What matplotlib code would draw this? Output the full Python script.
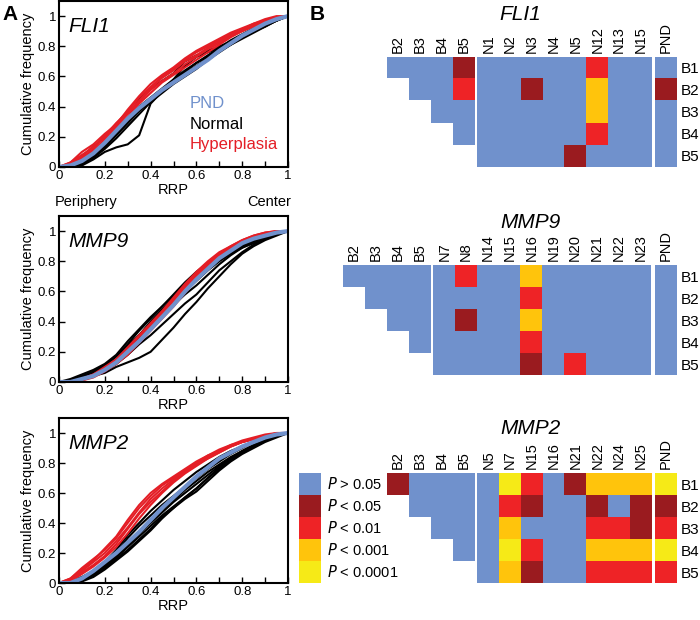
import matplotlib
matplotlib.use("Agg")
import matplotlib.pyplot as plt
import numpy as np
from matplotlib.colors import ListedColormap

plt.rcParams['font.family'] = ['Liberation Sans', 'DejaVu Sans']

# ---- data: cumulative frequency curves ----
rrp = [0, .05, .1, .15, .2, .25, .3, .35, .4, .45, .5, .55, .6, .65, .7, .75, .8, .85, .9, .95, 1]

fli1_pnd = [0, .01, .04, .09, .16, .24, .32, .39, .45, .51, .56, .61, .66, .71, .77, .82, .87, .91, .95, .98, 1]
fli1_hyper = [
    [0, .03, .08, .13, .21, .29, .37, .46, .53, .60, .65, .71, .76, .80, .84, .88, .91, .94, .97, .99, 1],
    [0, .02, .07, .14, .19, .27, .35, .43, .51, .57, .62, .68, .73, .78, .82, .87, .90, .93, .96, .99, 1],
    [0, .03, .10, .15, .22, .28, .38, .47, .55, .61, .66, .72, .77, .81, .85, .89, .92, .95, .98, 1.0, 1],
    [0, .01, .05, .11, .18, .26, .33, .42, .49, .56, .61, .66, .71, .76, .81, .86, .90, .94, .97, .99, 1],
    [0, .02, .06, .12, .20, .29, .36, .44, .52, .59, .64, .70, .74, .79, .83, .87, .91, .95, .97, .99, 1],
]
fli1_normal = [
    [0, 0, .01, .05, .10, .13, .15, .21, .42, .50, .58, .67, .73, .76, .79, .82, .86, .90, .93, .97, 1],
    [0, 0, .03, .08, .14, .22, .32, .45, .52, .57, .62, .70, .74, .77, .80, .83, .87, .91, .94, .97, 1],
    [0, 0, .02, .07, .13, .21, .29, .37, .44, .50, .56, .62, .67, .72, .77, .81, .85, .89, .93, .97, 1],
    [0, .01, .04, .09, .15, .23, .31, .40, .46, .52, .58, .64, .69, .73, .78, .82, .86, .90, .94, .97, 1],
    [0, 0, .03, .08, .15, .22, .30, .38, .43, .49, .55, .60, .65, .71, .76, .81, .86, .91, .95, .98, 1],
    [0, 0, .02, .06, .12, .19, .27, .35, .43, .50, .57, .63, .69, .74, .79, .84, .88, .92, .95, .98, 1],
]

mmp9_pnd = [0, 0, .02, .04, .08, .13, .20, .27, .35, .43, .51, .60, .68, .75, .82, .87, .92, .95, .97, .99, 1]
mmp9_hyper = [
    [0, 0, .02, .05, .09, .15, .22, .30, .38, .46, .54, .63, .71, .78, .84, .89, .93, .96, .98, .99, 1],
    [0, 0, .01, .03, .07, .12, .19, .27, .36, .45, .53, .62, .70, .78, .84, .89, .93, .96, .98, 1, 1],
    [0, 0, .02, .04, .08, .14, .21, .28, .37, .46, .55, .64, .72, .79, .85, .90, .94, .97, .99, 1, 1],
    [0, 0, .01, .04, .08, .12, .18, .26, .34, .42, .50, .59, .68, .76, .83, .88, .92, .95, .98, .99, 1],
    [0, 0, .02, .05, .10, .15, .23, .31, .39, .47, .56, .65, .73, .80, .86, .90, .94, .97, .99, 1, 1],
]
mmp9_normal = [
    [0, 0, .02, .04, .06, .10, .13, .16, .20, .28, .36, .45, .53, .62, .70, .78, .85, .90, .94, .97, 1],
    [0, 0, .02, .04, .07, .12, .18, .25, .31, .38, .45, .52, .58, .66, .74, .80, .86, .91, .95, .98, 1],
    [0, .02, .05, .08, .12, .18, .27, .35, .43, .50, .57, .65, .72, .78, .83, .88, .92, .95, .97, .99, 1],
    [0, .01, .04, .07, .11, .17, .25, .34, .42, .50, .58, .66, .73, .79, .84, .88, .91, .94, .97, .99, 1],
    [0, 0, .03, .06, .10, .15, .22, .30, .37, .44, .51, .58, .64, .71, .78, .84, .89, .93, .96, .98, 1],
    [0, 0, .02, .05, .09, .14, .22, .31, .40, .48, .55, .61, .68, .75, .81, .86, .90, .94, .97, .99, 1],
    [0, .01, .03, .06, .11, .17, .24, .31, .38, .46, .53, .60, .67, .74, .80, .85, .89, .92, .95, .98, 1],
    [0, 0, .02, .05, .08, .13, .20, .29, .38, .47, .56, .64, .70, .76, .82, .87, .91, .95, .97, .99, 1],
]

mmp2_pnd = [0, 0, .03, .08, .14, .20, .27, .34, .42, .50, .57, .64, .71, .77, .83, .87, .91, .94, .97, .99, 1]
mmp2_hyper = [
    [0, .03, .10, .16, .22, .30, .40, .50, .58, .65, .70, .75, .80, .84, .88, .91, .94, .96, .98, .99, 1],
    [0, .02, .08, .14, .20, .28, .37, .47, .56, .63, .69, .74, .79, .83, .87, .91, .94, .96, .98, 1, 1],
    [0, .02, .07, .12, .18, .26, .36, .46, .54, .61, .68, .74, .80, .85, .89, .92, .95, .97, .99, 1, 1],
    [0, .03, .09, .15, .23, .31, .42, .52, .60, .66, .71, .76, .81, .85, .88, .92, .94, .96, .98, .99, 1],
    [0, .01, .06, .11, .17, .24, .33, .43, .52, .60, .67, .73, .78, .83, .87, .91, .94, .96, .98, .99, 1],
]
mmp2_normal = [
    [0, 0, .02, .06, .11, .17, .24, .31, .38, .45, .51, .57, .63, .70, .76, .82, .87, .91, .95, .98, 1],
    [0, 0, .02, .05, .10, .16, .22, .29, .36, .44, .50, .56, .61, .68, .75, .81, .86, .90, .94, .97, 1],
    [0, 0, .03, .07, .13, .19, .26, .33, .40, .47, .54, .60, .66, .72, .78, .83, .88, .92, .95, .98, 1],
    [0, 0, .02, .06, .12, .20, .30, .38, .45, .52, .58, .64, .70, .76, .81, .86, .90, .94, .97, .99, 1],
    [0, 0, .01, .04, .09, .15, .21, .28, .35, .43, .50, .57, .63, .70, .77, .82, .87, .91, .95, .98, 1],
    [0, 0, .02, .06, .12, .18, .25, .33, .41, .49, .55, .62, .68, .74, .79, .84, .88, .92, .95, .98, 1],
    [0, .01, .04, .08, .14, .22, .32, .40, .48, .55, .62, .68, .74, .79, .84, .88, .91, .94, .97, .99, 1],
]

# ---- data: significance matrices (0:P>0.05 1:P<0.05 2:P<0.01 3:P<0.001 4:P<0.0001, -1 empty) ----
rows = ["B1", "B2", "B3", "B4", "B5"]
b_cols = ["B2", "B3", "B4", "B5"]

fli1_b = [[0, 0, 0, 1], [-1, 0, 0, 2], [-1, -1, 0, 0], [-1, -1, -1, 0], [-1, -1, -1, -1]]
fli1_ncols = ["N1", "N2", "N3", "N4", "N5", "N12", "N13", "N15"]
fli1_n = [[0, 0, 0, 0, 0, 2, 0, 0],
          [0, 0, 1, 0, 0, 3, 0, 0],
          [0, 0, 0, 0, 0, 3, 0, 0],
          [0, 0, 0, 0, 0, 2, 0, 0],
          [0, 0, 0, 0, 1, 0, 0, 0]]
fli1_p = [0, 1, 0, 0, 0]

mmp9_b = [[0, 0, 0, 0], [-1, 0, 0, 0], [-1, -1, 0, 0], [-1, -1, -1, 0], [-1, -1, -1, -1]]
mmp9_ncols = ["N7", "N8", "N14", "N15", "N16", "N19", "N20", "N21", "N22", "N23"]
mmp9_n = [[0, 2, 0, 0, 3, 0, 0, 0, 0, 0],
          [0, 0, 0, 0, 2, 0, 0, 0, 0, 0],
          [0, 1, 0, 0, 3, 0, 0, 0, 0, 0],
          [0, 0, 0, 0, 2, 0, 0, 0, 0, 0],
          [0, 0, 0, 0, 1, 0, 2, 0, 0, 0]]
mmp9_p = [0, 0, 0, 0, 0]

mmp2_b = [[1, 0, 0, 0], [-1, 0, 0, 0], [-1, -1, 0, 0], [-1, -1, -1, 0], [-1, -1, -1, -1]]
mmp2_ncols = ["N5", "N7", "N15", "N16", "N21", "N22", "N24", "N25"]
mmp2_n = [[0, 4, 2, 0, 1, 3, 3, 3],
          [0, 2, 1, 0, 0, 1, 0, 1],
          [0, 3, 0, 0, 0, 2, 2, 1],
          [0, 4, 2, 0, 0, 3, 3, 3],
          [0, 3, 1, 0, 0, 2, 2, 2]]
mmp2_p = [4, 1, 2, 4, 2]

legend_labels = ["> 0.05", "< 0.05", "< 0.01", "< 0.001", "< 0.0001"]
sig_colors = ["#7091cc", "#9a1b1f", "#ee2326", "#ffc40c", "#f6ea17"]
blue = "#7091cc"

W, H = 700, 620
fig = plt.figure(figsize=(7, 6.2), dpi=100)


def px_axes(left, top, width, height):
    return fig.add_axes([left / W, 1 - (top + height) / H, width / W, height / H])


# ---- panel A ----
def cdf_panel(top, height, gene, pnd, hyper, normal):
    ax = px_axes(59, top, 229, height)
    for c in normal:
        ax.plot(rrp, c, color="black", lw=1.5)
    for c in hyper:
        ax.plot(rrp, c, color="#e41e26", lw=1.5)
    ax.plot(rrp, pnd, color=blue, lw=3)
    ax.set_xlim(0, 1)
    ax.set_ylim(0, 1.1)
    ax.set_xticks([0, .2, .4, .6, .8, 1])
    ax.set_xticklabels(["0", "0.2", "0.4", "0.6", "0.8", "1"])
    ax.set_xticks([.1, .3, .5, .7, .9], minor=True)
    ax.set_yticks([0, .2, .4, .6, .8, 1])
    ax.set_yticklabels(["0", "0.2", "0.4", "0.6", "0.8", "1"])
    ax.tick_params(which="both", direction="in", length=4, width=1, labelsize=9.5, pad=2)
    for s in ax.spines.values():
        s.set_linewidth(1.5)
    ax.set_xlabel("RRP", fontsize=10.5, labelpad=1)
    ax.set_ylabel("Cumulative frequency", fontsize=10.5, labelpad=2)
    ax.text(0.04, 0.93, gene, fontsize=15, style="italic", va="center")
    return ax


axA1 = cdf_panel(1, 166, "FLI1", fli1_pnd, fli1_hyper, fli1_normal)
axA1.text(0.57, 0.42, "PND", color=blue, fontsize=12, va="center")
axA1.text(0.57, 0.28, "Normal", color="black", fontsize=12, va="center")
axA1.text(0.57, 0.15, "Hyperplasia", color="#e41e26", fontsize=12, va="center")
fig.text(55 / W, 1 - 202 / H, "Periphery", fontsize=10.5, va="center")
fig.text(291 / W, 1 - 202 / H, "Center", fontsize=10.5, va="center", ha="right")
cdf_panel(216, 166, "MMP9", mmp9_pnd, mmp9_hyper, mmp9_normal)
cdf_panel(418, 165, "MMP2", mmp2_pnd, mmp2_hyper, mmp2_normal)

fig.text(2 / W, 1 - 15 / H, "A", fontsize=15, fontweight="bold", va="center")
fig.text(310 / W, 1 - 15 / H, "B", fontsize=15, fontweight="bold", va="center")

# ---- panel B ----
cmap = ListedColormap(sig_colors)
cmap.set_bad(alpha=0)
cell_w, cell_h, gap = 21.8, 22, 0.15


def sig_map(left, top, title_x, title_y, gene, bmat, ncols, nmat, pcol):
    nb, nn = len(b_cols), len(ncols)
    total = nb + gap + nn + gap + 1
    ax = px_axes(left, top, total * cell_w, 5 * cell_h)
    blocks = [(0, np.array(bmat, float)),
              (nb + gap, np.array(nmat, float)),
              (nb + gap + nn + gap, np.array(pcol, float).reshape(-1, 1))]
    for x0, m in blocks:
        m = np.ma.masked_less(m, 0)
        ax.imshow(m, cmap=cmap, vmin=-0.5, vmax=4.5, interpolation="nearest",
                  extent=(x0, x0 + m.shape[1], 5, 0), aspect="auto")
    ax.set_xlim(0, total)
    ax.set_ylim(5, 0)
    centers = [i + 0.5 for i in range(nb)] + [nb + gap + i + 0.5 for i in range(nn)] + [total - 0.5]
    ax.set_xticks(centers)
    ax.set_xticklabels(b_cols + ncols + ["PND"], rotation=90, fontsize=10.5)
    ax.xaxis.tick_top()
    ax.set_yticks([i + 0.5 for i in range(5)])
    ax.set_yticklabels(rows, fontsize=11)
    ax.yaxis.tick_right()
    ax.tick_params(length=0, pad=3)
    for s in ax.spines.values():
        s.set_visible(False)
    fig.text(title_x / W, 1 - title_y / H, gene, fontsize=15, style="italic", ha="center", va="center")
    return ax


sig_map(387, 57, 520, 15, "FLI1", fli1_b, fli1_ncols, fli1_n, fli1_p)
sig_map(343, 265, 530, 222, "MMP9", mmp9_b, mmp9_ncols, mmp9_n, mmp9_p)
sig_map(387, 473, 530, 428, "MMP2", mmp2_b, mmp2_ncols, mmp2_n, mmp2_p)

# legend
axL = px_axes(299, 473, cell_w, 5 * cell_h)
axL.imshow(np.arange(5).reshape(-1, 1), cmap=cmap, vmin=-0.5, vmax=4.5,
           extent=(0, 1, 5, 0), aspect="auto")
axL.set_xlim(0, 1)
axL.set_ylim(5, 0)
axL.axis("off")
for i, lab in enumerate(legend_labels):
    axL.text(1.3, i + 0.5, "$P$ " + lab, fontsize=10.5, va="center", clip_on=False)

fig.savefig("out.png", dpi=100)
